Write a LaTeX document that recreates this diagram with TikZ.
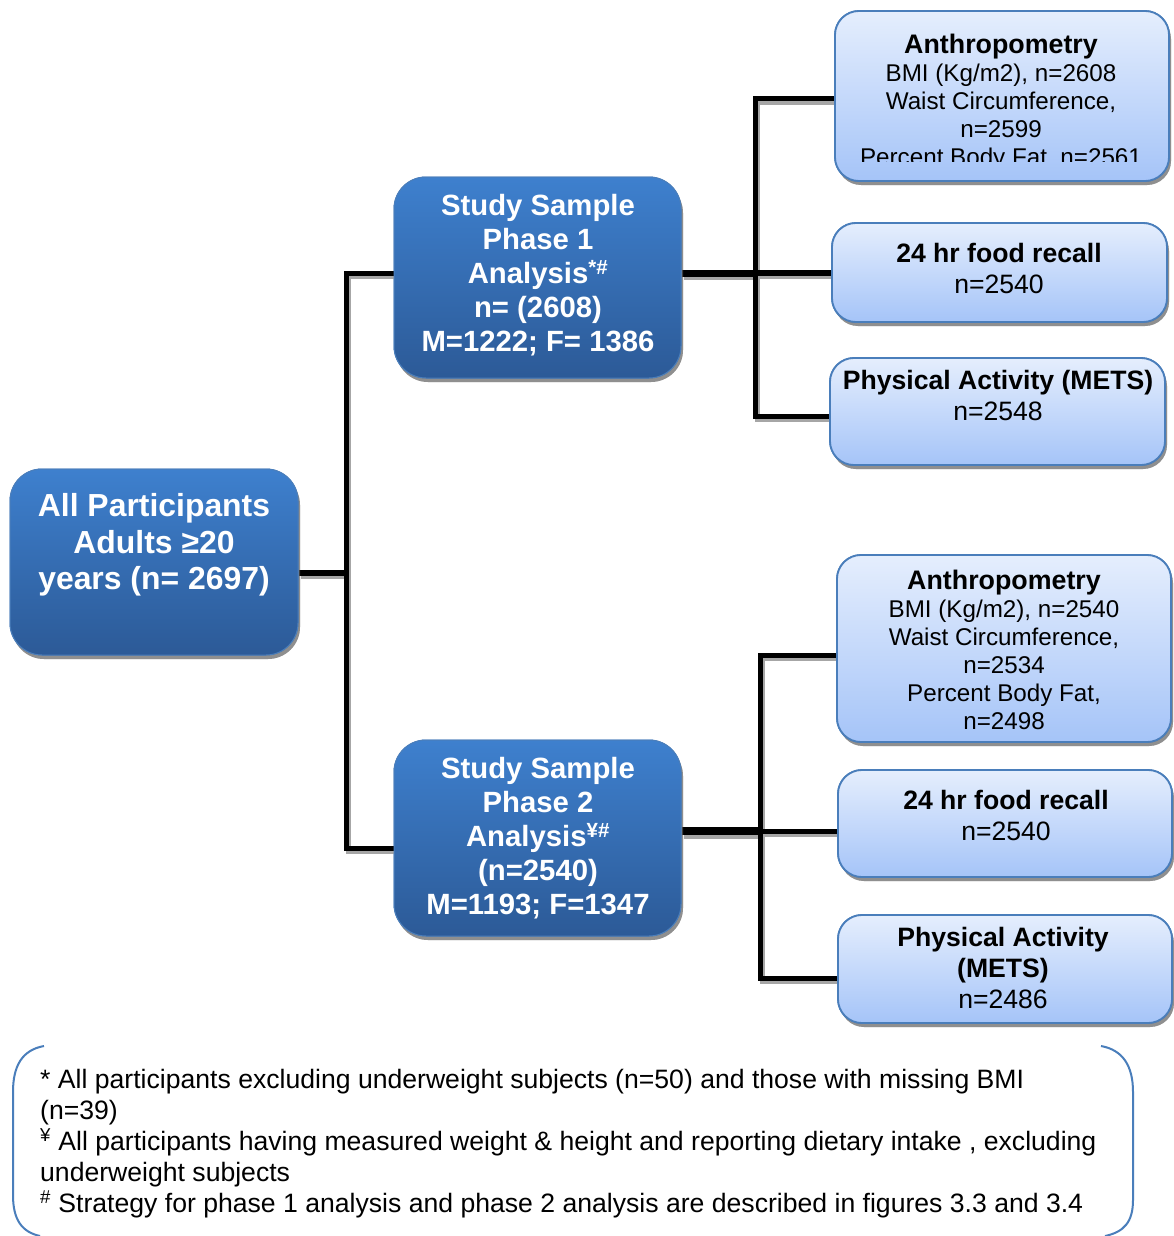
\documentclass[tikz,border=0pt]{standalone}
\usepackage{fontspec}
\setmainfont{Liberation Sans}
\usetikzlibrary{shadows}
\definecolor{dkTop}{HTML}{3E80CE}
\definecolor{dkBot}{HTML}{2C5A97}
\definecolor{ltTop}{HTML}{E5EEFD}
\definecolor{ltBot}{HTML}{A5C4F8}
\definecolor{edge}{HTML}{4A7EBB}
\newcommand\myconnectors[1]{%
  \draw[#1, line width=5.5pt] (all.east |- j1) -- (j1);
  \draw[#1, line width=5pt] (p1.west |- j1t) -- (j1t) -- (j1b) -- (p2.west |- j1b);
  \draw[#1, line width=5pt] (a1.west |- j2t) -- (j2t) -- (j2b) -- (c1.west |- j2b);
  \draw[#1, line width=7pt] (p1.east |- j2) -- (j2);
  \draw[#1, line width=5.5pt] (j2) -- (b1.west |- j2);
  \draw[#1, line width=5pt] (a2.west |- j3t) -- (j3t) -- (j3b) -- (c2.west |- j3b);
  \draw[#1, line width=8pt] (p2.east |- j3) -- (j3);
  \draw[#1, line width=5pt] (j3) -- (b2.west |- j3);
}
\newcommand\bigttl[1]{{\fontsize{26.8}{28}\selectfont\bfseries #1}}
\begin{document}
\begin{tikzpicture}[x=1pt,y=-1pt, line join=miter,
  boxshadow/.style={drop shadow={shadow xshift=2pt, shadow yshift=-4pt, fill=black!55, opacity=0.55}},
  darkbox/.style={rectangle, rounded corners=32pt, top color=dkTop, bottom color=dkBot,
    draw=edge, line width=1pt, inner sep=0pt, boxshadow},
  lightbox/.style={rectangle, rounded corners=24pt, top color=ltTop, bottom color=ltBot,
    draw=edge, line width=1.8pt, inner sep=0pt, boxshadow},
  darktext/.style={text=white, align=center, inner sep=0pt, font=\bfseries\fontsize{29.3}{34}\selectfont},
  lighttext/.style={text=black, align=center, inner sep=0pt, font=\fontsize{24.2}{28}\selectfont},
  smalltext/.style={text=black, align=center, inner sep=0pt, font=\fontsize{26.6}{31}\selectfont},
  notetext/.style={text=black, align=left, inner sep=0pt, font=\fontsize{26.6}{31}\selectfont},
  bracket/.style={draw=edge, line width=2pt},
]
\useasboundingbox (0,0) rectangle (1174,1236);
\fill[white] (0,0) rectangle (1174,1236);

% junction coordinates
\coordinate (j1) at (346,573);
\coordinate (j1t) at (346,273);
\coordinate (j1b) at (346,848);
\coordinate (j2) at (755,273);
\coordinate (j2t) at (755,99);
\coordinate (j2b) at (755,416);
\coordinate (j3) at (760,831);
\coordinate (j3t) at (760,655);
\coordinate (j3b) at (760,978);

% boxes (geometry first so that connectors can refer to them)
\path
  node[darkbox, minimum width=288pt, minimum height=186pt] (all) at (154,562) {}
  node[darkbox, minimum width=287pt, minimum height=201pt] (p1) at (537.5,277.5) {}
  node[darkbox, minimum width=287pt, minimum height=196pt] (p2) at (537.5,838) {}
  node[lightbox, minimum width=334pt, minimum height=170pt] (a1) at (1002,96) {}
  node[lightbox, minimum width=335pt, minimum height=99pt] (b1) at (999.5,272.5) {}
  node[lightbox, minimum width=335pt, minimum height=107pt] (c1) at (997.5,411.5) {}
  node[lightbox, minimum width=334pt, minimum height=187pt] (a2) at (1004,648.5) {}
  node[lightbox, minimum width=334pt, minimum height=107pt] (b2) at (1005,823.5) {}
  node[lightbox, minimum width=334pt, minimum height=108pt] (c2) at (1005,969) {};

% connector shadows, then connectors
\begin{scope}[transform canvas={xshift=2.5pt, yshift=-3.5pt}]
  \myconnectors{black!35}
\end{scope}
\myconnectors{black}

% redraw boxes over connector ends
\path
  node[darkbox, minimum width=288pt, minimum height=186pt] (allR) at (all) {}
  node[darkbox, minimum width=287pt, minimum height=201pt] (p1R) at (p1) {}
  node[darkbox, minimum width=287pt, minimum height=196pt] (p2R) at (p2) {}
  node[lightbox, minimum width=334pt, minimum height=170pt] (a1R) at (a1) {}
  node[lightbox, minimum width=335pt, minimum height=99pt] (b1R) at (b1) {}
  node[lightbox, minimum width=335pt, minimum height=107pt] (c1R) at (c1) {}
  node[lightbox, minimum width=334pt, minimum height=187pt] (a2R) at (a2) {}
  node[lightbox, minimum width=334pt, minimum height=107pt] (b2R) at (b2) {}
  node[lightbox, minimum width=334pt, minimum height=108pt] (c2R) at (c2) {};

% texts
\node[darktext, font=\bfseries\fontsize{31.9}{36.5}\selectfont] (allT) at (154,545)
  {All Participants\\Adults ≥20\\years (n= 2697)};
\node[darktext] (p1T) at (538,275.5)
  {Study Sample\\Phase 1\\Analysis\textsuperscript{*\#}\\n= (2608)\\M=1222; F= 1386};
\node[darktext] (p2T) at (538,838)
  {Study Sample\\Phase 2\\Analysis\textsuperscript{¥\#}\\(n=2540)\\M=1193; F=1347};

\begin{scope}
  \clip (835,11) rectangle (1169,161);
  \node[lighttext] (a1T) at (1001,102)
    {\bigttl{Anthropometry}\\BMI (Kg/m2), n=2608\\Waist Circumference,\\n=2599\\Percent Body Fat, n=2561};
\end{scope}
\node[smalltext] (b1T) at (999,268.5)
  {\textbf{24 hr food recall}\\n=2540};
\node[smalltext] (c1T) at (998,395.5)
  {\textbf{Physical Activity (METS)}\\n=2548};
\node[lighttext] (a2T) at (1004,650)
  {\bigttl{Anthropometry}\\BMI (Kg/m2), n=2540\\Waist Circumference,\\n=2534\\Percent Body Fat,\\n=2498};
\node[smalltext] (b2T) at (1006,815.5)
  {\textbf{24 hr food recall}\\n=2540};
\node[smalltext] (c2T) at (1003,968)
  {\textbf{Physical Activity}\\\textbf{(METS)}\\n=2486};

% footnote bracket
\draw[bracket] (44,1046) .. controls (22,1050) and (13,1066) .. (13,1092)
  -- (13,1195) .. controls (13,1220) and (22,1232) .. (40,1236);
\draw[bracket] (1101,1046) .. controls (1123,1050) and (1133,1066) .. (1133,1092)
  -- (1133,1200) .. controls (1133,1222) and (1124,1232) .. (1105,1236);

\node[notetext, anchor=north west] (notes) at (40,1069)
  {* All participants excluding underweight subjects (n=50) and those with missing BMI\\
   (n=39)\\
   \textsuperscript{¥} All participants having measured weight \& height and reporting dietary intake , excluding\\
   underweight subjects\\
   \textsuperscript{\#} Strategy for phase 1 analysis and phase 2 analysis are described in figures 3.3 and 3.4};
\end{tikzpicture}
\end{document}
